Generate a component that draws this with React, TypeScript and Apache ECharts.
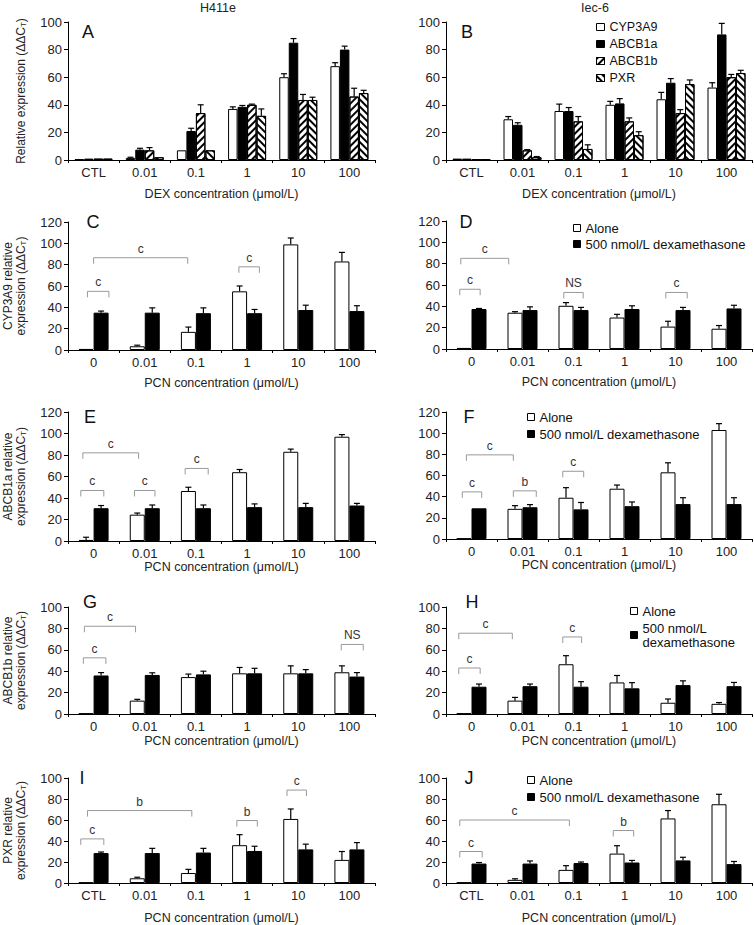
import React, { useEffect, useRef } from 'react';
import * as echarts from 'echarts';

const FONT = '"Liberation Sans", Arial, sans-serif';

// ---------- categories ----------
const dexCats = ['CTL', '0.01', '0.1', '1', '10', '100'];
const pcnCats = ['0', '0.01', '0.1', '1', '10', '100'];
const pcnCtlCats = ['CTL', '0.01', '0.1', '1', '10', '100'];
const geneNames = ['CYP3A9', 'ABCB1a', 'ABCB1b', 'PXR'];
const treatNames = ['Alone', '500 nmol/L dexamethasone'];

// ---------- Panel A (H411e, DEX) ----------
const aCyp = [0.5, 1.5, 7, 37, 60, 68];
const aCypErr = [0, 0.5, 0, 1.5, 2.5, 2.5];
const aAbcb1a = [1, 7.5, 21, 38.5, 85, 80];
const aAbcb1aErr = [0, 1, 2, 1, 3, 2.5];
const aAbcb1b = [1, 7, 34, 40, 43.5, 46];
const aAbcb1bErr = [0, 2, 6, 0.5, 4, 6];
const aPxr = [1, 2, 7, 32, 43.5, 48.5];
const aPxrErr = [0, 0, 0, 5, 2, 2];

// ---------- Panel B (Iec-6, DEX) ----------
const bCyp = [1, 29.5, 35.5, 40, 44, 52.5];
const bCypErr = [0, 2, 5, 2.5, 5, 3.5];
const bAbcb1a = [1, 25.5, 35.5, 41, 56, 91];
const bAbcb1aErr = [0, 1.5, 2.5, 3.5, 3, 8];
const bAbcb1b = [0.5, 7, 28, 28, 34, 60];
const bAbcb1bErr = [0, 0.5, 3.5, 2.5, 2.5, 2];
const bPxr = [0.5, 2, 8, 18, 55, 63];
const bPxrErr = [0, 0.5, 3, 2.5, 3, 2];

// ---------- Panels C-J (PCN alone / + 500 nmol/L DEX) ----------
const cAlone = [1, 3.5, 17, 55, 99, 83];
const cAloneErr = [0, 1, 4.5, 5, 6, 8.5];
const cDex = [35, 35, 34.5, 34.5, 37.5, 36.5];
const cDexErr = [1.5, 4.5, 5, 3.5, 4.5, 5];

const dAlone = [1, 34, 40.5, 29.5, 21, 19];
const dAloneErr = [0, 1, 3, 3, 5, 3];
const dDex = [37.5, 36.5, 36.5, 37.5, 36.5, 38];
const dDexErr = [0.5, 3, 2.5, 3, 2.5, 3];

const eAlone = [1, 24.5, 46.5, 64, 83, 97];
const eAloneErr = [2.5, 1.5, 3.5, 2.5, 2.5, 2];
const eDex = [30.5, 30.5, 30.5, 31.5, 31.5, 33];
const eDexErr = [2.5, 3, 3, 3, 3.5, 2];

const fAlone = [0.5, 28.5, 39, 47.5, 63, 103];
const fAloneErr = [0, 3, 9.5, 3.5, 9, 6];
const fDex = [29, 30, 28, 31, 33, 33];
const fDexErr = [0, 2.5, 6.5, 4, 6, 6];

const gAlone = [0.5, 12.5, 34.5, 38, 38, 39];
const gAloneErr = [0, 1.2, 2.8, 5.5, 7, 6];
const gDex = [36, 36.5, 37, 38, 38, 35];
const gDexErr = [2.7, 2, 3, 4.7, 3.5, 3.7];

const hAlone = [0.5, 12.5, 46.5, 29.5, 10.5, 9.5];
const hAloneErr = [0, 3, 8, 6.5, 3.5, 1.2];
const hDex = [25.5, 26, 25.5, 24, 27, 26];
const hDexErr = [2.5, 2, 4.7, 5.3, 4, 3.5];

const iAlone = [0.5, 4.5, 9.5, 36, 61, 22];
const iAloneErr = [0, 1, 3.5, 10, 9.5, 8];
const iDex = [28.5, 28.5, 29, 30.5, 32, 32];
const iDexErr = [1, 4.5, 4, 4.5, 5, 6.5];

const jAlone = [0.5, 3, 12.5, 28, 61.5, 75];
const jAloneErr = [0, 1, 4, 7.5, 7.5, 9.5];
const jDex = [18.5, 18.5, 19, 19.5, 21.5, 18];
const jDexErr = [1, 2.5, 1, 2, 3, 2.5];

// significance brackets: [fromCategory, fromBandOffset, toCategory, toBandOffset, yValue, label]
type Bracket = [number, number, number, number, number, string];
const cBrackets: Bracket[] = [[0, -0.12, 0, 0.3, 55, 'c'], [0, 0, 2, -0.16, 86.5, 'c'], [3, -0.16, 3, 0.24, 78, 'c']];
const dBrackets: Bracket[] = [[0, -0.23, 0, 0.17, 56, 'c'], [0, -0.21, 1, -0.27, 85, 'c'], [2, -0.19, 2, 0.19, 53, 'NS'], [4, -0.19, 4, 0.23, 53, 'c']];
const eBrackets: Bracket[] = [[0, -0.25, 0, 0.2, 47, 'c'], [1, -0.2, 1, 0.2, 47, 'c'], [0, -0.21, 1, -0.12, 82, 'c'], [2, -0.21, 2, 0.24, 67.5, 'c']];
const fBrackets: Bracket[] = [[0, -0.18, 0, 0.2, 44.5, 'c'], [1, -0.18, 1, 0.27, 45.5, 'b'], [0, -0.1, 1, -0.18, 79.5, 'c'], [2, -0.21, 2, 0.2, 64, 'c']];
const gBrackets: Bracket[] = [[0, -0.2, 0, 0.24, 52.5, 'c'], [0, -0.18, 1, -0.18, 82, 'c'], [5, -0.16, 5, 0.27, 65, 'NS']];
const hBrackets: Bracket[] = [[0, -0.25, 0, 0.17, 43, 'c'], [0, -0.25, 1, -0.2, 75.5, 'c'], [2, -0.21, 2, 0.16, 72, 'c']];
const iBrackets: Bracket[] = [[0, -0.25, 0, 0.2, 42, 'c'], [0, -0.12, 2, -0.08, 69, 'b'], [3, -0.2, 3, 0.2, 59.5, 'b'], [4, -0.22, 4, 0.16, 88.5, 'c']];
const jBrackets: Bracket[] = [[0, -0.23, 0, 0.21, 30, 'c'], [0, -0.23, 2, -0.08, 60, 'c'], [3, -0.22, 3, 0.18, 50, 'b']];

interface SeriesSpec { name: string; values: number[]; errs: number[] }
interface PanelSpec {
  letter: string; lx: number; ly: number;
  left: number; top: number; width: number; height: number;
  cats: string[]; yMax: number; barWidth: number;
  yName?: string; xName: string; xNameGap: number;
  series: SeriesSpec[]; brackets: Bracket[];
}

const pair = (a: number[], ae: number[], d: number[], de: number[]): SeriesSpec[] => [
  { name: treatNames[0], values: a, errs: ae },
  { name: treatNames[1], values: d, errs: de },
];

const L = 68, R = 446, W = 307, WR = 306;
const PCN = 'PCN concentration (μmol/L)';

const panels: PanelSpec[] = [
  { letter: 'A', lx: 88, ly: 32, left: L, top: 22, width: W, height: 138, cats: dexCats, yMax: 100, barWidth: 9.5,
    yName: 'Relative expression (ΔΔC{sub|T})', xName: 'DEX concentration (μmol/L)', xNameGap: 27,
    series: [
      { name: geneNames[0], values: aCyp, errs: aCypErr },
      { name: geneNames[1], values: aAbcb1a, errs: aAbcb1aErr },
      { name: geneNames[2], values: aAbcb1b, errs: aAbcb1bErr },
      { name: geneNames[3], values: aPxr, errs: aPxrErr },
    ], brackets: [] },
  { letter: 'B', lx: 467, ly: 32, left: R, top: 22, width: WR, height: 138, cats: dexCats, yMax: 100, barWidth: 9.5,
    xName: 'DEX concentration (μmol/L)', xNameGap: 27,
    series: [
      { name: geneNames[0], values: bCyp, errs: bCypErr },
      { name: geneNames[1], values: bAbcb1a, errs: bAbcb1aErr },
      { name: geneNames[2], values: bAbcb1b, errs: bAbcb1bErr },
      { name: geneNames[3], values: bPxr, errs: bPxrErr },
    ], brackets: [] },
  { letter: 'C', lx: 93, ly: 222, left: L, top: 222, width: W, height: 128, cats: pcnCats, yMax: 120, barWidth: 15,
    yName: 'CYP3A9 relative\nexpression (ΔΔC{sub|T})', xName: PCN, xNameGap: 26,
    series: pair(cAlone, cAloneErr, cDex, cDexErr), brackets: cBrackets },
  { letter: 'D', lx: 466, ly: 222, left: R, top: 221, width: WR, height: 128, cats: pcnCats, yMax: 120, barWidth: 15,
    xName: PCN, xNameGap: 26, series: pair(dAlone, dAloneErr, dDex, dDexErr), brackets: dBrackets },
  { letter: 'E', lx: 90, ly: 417, left: L, top: 412, width: W, height: 129, cats: pcnCats, yMax: 120, barWidth: 15,
    yName: 'ABCB1a relative\nexpression (ΔΔC{sub|T})', xName: PCN, xNameGap: 18,
    series: pair(eAlone, eAloneErr, eDex, eDexErr), brackets: eBrackets },
  { letter: 'F', lx: 469, ly: 417, left: R, top: 412, width: WR, height: 127, cats: pcnCats, yMax: 120, barWidth: 15,
    xName: PCN, xNameGap: 18, series: pair(fAlone, fAloneErr, fDex, fDexErr), brackets: fBrackets },
  { letter: 'G', lx: 90, ly: 602, left: L, top: 607, width: W, height: 107, cats: pcnCats, yMax: 100, barWidth: 15,
    yName: 'ABCB1b relative\nexpression (ΔΔC{sub|T})', xName: PCN, xNameGap: 20,
    series: pair(gAlone, gAloneErr, gDex, gDexErr), brackets: gBrackets },
  { letter: 'H', lx: 472, ly: 602, left: R, top: 607, width: WR, height: 107, cats: pcnCats, yMax: 100, barWidth: 15,
    xName: PCN, xNameGap: 20, series: pair(hAlone, hAloneErr, hDex, hDexErr), brackets: hBrackets },
  { letter: 'I', lx: 82, ly: 778, left: L, top: 778, width: W, height: 106, cats: pcnCtlCats, yMax: 100, barWidth: 15,
    yName: 'PXR relative\nexpression (ΔΔC{sub|T})', xName: PCN, xNameGap: 28,
    series: pair(iAlone, iAloneErr, iDex, iDexErr), brackets: iBrackets },
  { letter: 'J', lx: 469, ly: 778, left: R, top: 778, width: WR, height: 107, cats: pcnCtlCats, yMax: 100, barWidth: 15,
    xName: PCN, xNameGap: 28, series: pair(jAlone, jAloneErr, jDex, jDexErr), brackets: jBrackets },
];

function styleFor(name: string): any {
  const base = { borderColor: '#000', borderWidth: 1 };
  if (name === 'ABCB1a' || name === '500 nmol/L dexamethasone') return { ...base, color: '#000' };
  if (name === 'ABCB1b')
    return { ...base, color: '#fff', decal: { symbol: 'rect', symbolSize: 1, color: '#000', dashArrayX: [1, 0], dashArrayY: [1.6, 2.4], rotation: -Math.PI / 4 } };
  if (name === 'PXR')
    return { ...base, color: '#fff', decal: { symbol: 'rect', symbolSize: 1, color: '#000', dashArrayX: [1, 0], dashArrayY: [1.6, 2.4], rotation: Math.PI / 4 } };
  return { ...base, color: '#fff' };
}

function buildOption(): any {
  const grid: any[] = [];
  const xAxis: any[] = [];
  const yAxis: any[] = [];
  const series: any[] = [];
  const graphic: any[] = [];

  panels.forEach((p, i) => {
    grid.push({ left: p.left, top: p.top, width: p.width, height: p.height });
    xAxis.push({
      type: 'category', gridIndex: i, data: p.cats,
      axisLine: { lineStyle: { color: '#000', width: 1 } },
      axisTick: { show: true, length: 3, lineStyle: { color: '#000' } },
      axisLabel: { fontSize: 13, color: '#222', margin: 6, fontFamily: FONT },
      name: p.xName, nameLocation: 'middle', nameGap: p.xNameGap,
      nameTextStyle: { fontSize: 12.5, color: '#222', fontFamily: FONT },
    });
    yAxis.push({
      type: 'value', gridIndex: i, min: 0, max: p.yMax, interval: 20,
      axisLine: { show: true, lineStyle: { color: '#000', width: 1 } },
      axisTick: { show: true, length: 4, lineStyle: { color: '#000' } },
      axisLabel: { fontSize: 13, color: '#222', margin: 6, fontFamily: FONT },
      splitLine: { show: false },
      name: p.yName || '', nameLocation: 'middle', nameRotate: 90, nameGap: 41,
      nameTextStyle: {
        fontSize: 12, color: '#222', fontFamily: FONT, lineHeight: 13, align: 'center',
        rich: { sub: { fontSize: 8, fontFamily: FONT, color: '#222', verticalAlign: 'bottom', lineHeight: 10 } },
      },
    });
    const n = p.series.length;
    p.series.forEach((s) => {
      series.push({
        type: 'bar', name: s.name, xAxisIndex: i, yAxisIndex: i, data: s.values,
        barWidth: p.barWidth, barGap: '0%', itemStyle: styleFor(s.name), silent: true,
        emphasis: { disabled: true },
      });
    });
    p.series.forEach((s, j) => {
      const offset = (j - (n - 1) / 2) * p.barWidth;
      series.push({
        type: 'custom', name: s.name + ' err', xAxisIndex: i, yAxisIndex: i, z: 5, silent: true,
        data: s.values.map((v, k) => [k, v, s.errs[k]]),
        renderItem: (params: any, api: any) => {
          const c = api.value(0); const v = api.value(1); const e = api.value(2);
          if (!e) return { type: 'group', children: [] };
          const b = api.coord([c, v]); const t = api.coord([c, v + e]);
          const x = b[0] + offset;
          const st = { stroke: '#000', lineWidth: 1.2 };
          return {
            type: 'group', children: [
              { type: 'line', shape: { x1: x, y1: b[1], x2: x, y2: t[1] }, style: st },
              { type: 'line', shape: { x1: x - 3, y1: t[1], x2: x + 3, y2: t[1] }, style: st },
            ],
          };
        },
      });
    });
    if (p.brackets.length) {
      const br = p.brackets;
      series.push({
        type: 'custom', name: p.letter + ' brackets', xAxisIndex: i, yAxisIndex: i, z: 6, silent: true,
        data: br.map((b) => [b[0], b[4]]),
        renderItem: (params: any, api: any) => {
          const b = br[params.dataIndex];
          const bw = api.size([1, 0])[0];
          const p1 = api.coord([b[0], b[4]]);
          const p2 = api.coord([b[2], b[4]]);
          const x1 = p1[0] + b[1] * bw; const x2 = p2[0] + b[3] * bw; const y = p1[1];
          return {
            type: 'group', children: [
              { type: 'polyline', shape: { points: [[x1, y + 6], [x1, y], [x2, y], [x2, y + 6]] }, style: { stroke: '#999', lineWidth: 1, fill: null } },
              { type: 'text', x: (x1 + x2) / 2, y: y - 3, style: { text: b[5], fontSize: 12, fontFamily: FONT, fill: '#333', align: 'center', verticalAlign: 'bottom' } },
            ],
          };
        },
      });
    }
    graphic.push({ type: 'text', x: p.lx, y: p.ly, style: { text: p.letter, fontSize: 18, fontFamily: FONT, fill: '#111', align: 'center', verticalAlign: 'middle' } });
  });

  graphic.push({ type: 'text', x: 218, y: 8, style: { text: 'H411e', fontSize: 12.5, fontFamily: FONT, fill: '#222', align: 'center', verticalAlign: 'middle' } });
  graphic.push({ type: 'text', x: 595, y: 8, style: { text: 'Iec-6', fontSize: 12.5, fontFamily: FONT, fill: '#222', align: 'center', verticalAlign: 'middle' } });

  const legendBase = {
    orient: 'vertical', selectedMode: false, icon: 'rect', itemWidth: 7, itemHeight: 7,
    itemStyle: { borderColor: '#000', borderWidth: 1 },
    textStyle: { fontSize: 13, color: '#111', fontFamily: FONT, lineHeight: 14 },
    padding: 0,
  };
  const legend = [
    { ...legendBase, data: geneNames, left: 596, top: 20, itemGap: 3, itemWidth: 8, itemHeight: 7,
      textStyle: { ...legendBase.textStyle, fontSize: 12.5 } },
    { ...legendBase, data: treatNames, left: 573, top: 221, itemGap: 2 },
    { ...legendBase, data: treatNames, left: 527, top: 410, itemGap: 3 },
    { ...legendBase, data: treatNames, left: 630, top: 604, itemGap: 3,
      formatter: (nm: string) => (nm === treatNames[1] ? '500 nmol/L\ndexamethasone' : nm) },
    { ...legendBase, data: treatNames, left: 527, top: 773, itemGap: 3 },
  ];

  return {
    animation: false,
    backgroundColor: '#fff',
    textStyle: { fontFamily: FONT },
    grid, xAxis, yAxis, series, graphic, legend,
  };
}

export default function App() {
  const ref = useRef<HTMLDivElement>(null);
  useEffect(() => {
    if (!ref.current) return;
    const chart = echarts.init(ref.current, undefined, { renderer: 'svg' });
    chart.setOption(buildOption());
    return () => chart.dispose();
  }, []);
  return <div ref={ref} style={{ position: 'absolute', left: 0, top: 0, width: 754, height: 925 }} />;
}
